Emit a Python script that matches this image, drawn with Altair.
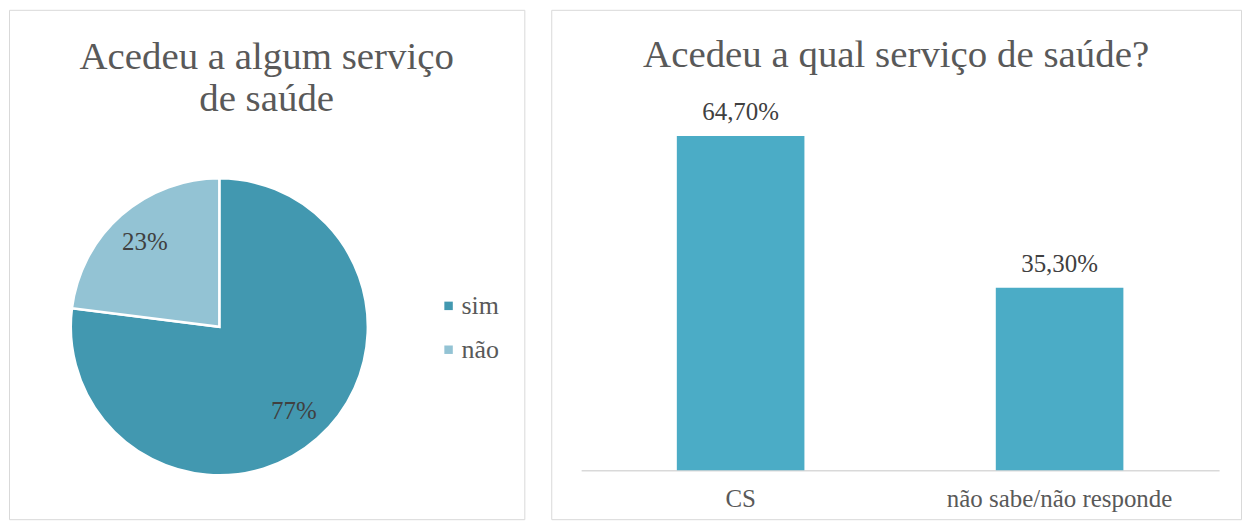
import altair as alt
import pandas as pd

pie_cats = ["sim", "não"]
pie_vals = [77, 23]
bar_cats = ["CS", "não sabe/não responde"]
bar_vals = [64.7, 35.3]

FONT = "Liberation Serif"
TITLE_COLOR = "#595959"
LABEL_COLOR = "#404040"

pie_df = pd.DataFrame({
    "cat": pie_cats,
    "v": pie_vals,
    "order": list(range(len(pie_cats))),
    "label": [f"{v}%" for v in pie_vals],
})
bar_df = pd.DataFrame({
    "cat": bar_cats,
    "v": bar_vals,
    "label": [f"{v:.2f}%".replace(".", ",") for v in bar_vals],
})

CX, CY, R = 211, 318, 149

arcs = alt.Chart(pie_df).mark_arc(outerRadius=R, stroke="white", strokeWidth=2.5).encode(
    theta=alt.Theta("v:Q", stack=True),
    order=alt.Order("order:Q"),
    color=alt.Color(
        "cat:N",
        scale=alt.Scale(domain=pie_cats, range=["#4298B0", "#93C3D4"]),
        legend=alt.Legend(
            title=None, orient="none", legendX=428, legendY=284,
            symbolType="square", symbolSize=72, symbolStrokeWidth=0,
            labelFont=FONT, labelFontSize=26, labelColor=TITLE_COLOR,
            rowPadding=18, labelOffset=0,
        ),
    ),
    x=alt.value(CX),
    y=alt.value(CY),
)
pie_text = alt.Chart(pie_df).mark_text(
    radius=113, font=FONT, fontSize=25, color=LABEL_COLOR
).encode(
    theta=alt.Theta("v:Q", stack=True),
    order=alt.Order("order:Q"),
    detail="cat:N",
    text="label:N",
    x=alt.value(CX),
    y=alt.value(CY),
)
pie = alt.layer(arcs, pie_text).properties(
    width=517, height=511,
    title=alt.TitleParams(
        text=["Acedeu a algum serviço", "de saúde"], font=FONT, fontSize=39,
        fontWeight="normal", color=TITLE_COLOR, lineHeight=43, offset=-110,
        anchor="middle",
    ),
)

xenc = alt.X(
    "cat:N", sort=bar_cats,
    scale=alt.Scale(range=[30, 670], paddingInner=0.6, paddingOuter=0.3),
    axis=alt.Axis(
        title=None, labelAngle=0, offset=-49, domainColor="#D9D9D9",
        domainWidth=1.5, ticks=False, labelFont=FONT, labelFontSize=25,
        labelColor=TITLE_COLOR, labelPadding=16, labelLimit=0,
    ),
)
yenc = alt.Y("v:Q", scale=alt.Scale(domain=[0, 70], range=[462, 99]), axis=None)

bars = alt.Chart(bar_df).mark_bar(color="#4BACC6").encode(x=xenc, y=yenc)
bar_text = alt.Chart(bar_df).mark_text(
    baseline="alphabetic", dy=-16, font=FONT, fontSize=25, color=LABEL_COLOR
).encode(x=alt.X("cat:N", sort=bar_cats), y="v:Q", text="label:N")

barchart = alt.layer(bars, bar_text).properties(
    width=692, height=511,
    title=alt.TitleParams(
        text="Acedeu a qual serviço de saúde?", font=FONT, fontSize=39,
        fontWeight="normal", color=TITLE_COLOR, offset=-65, anchor="middle",
    ),
)

chart = alt.hconcat(pie, barchart, spacing=25).properties(padding=0).configure_view(
    stroke="#D9D9D9", strokeWidth=1
)

chart.save("out.html", embed_options={"renderer": "svg", "actions": False})
